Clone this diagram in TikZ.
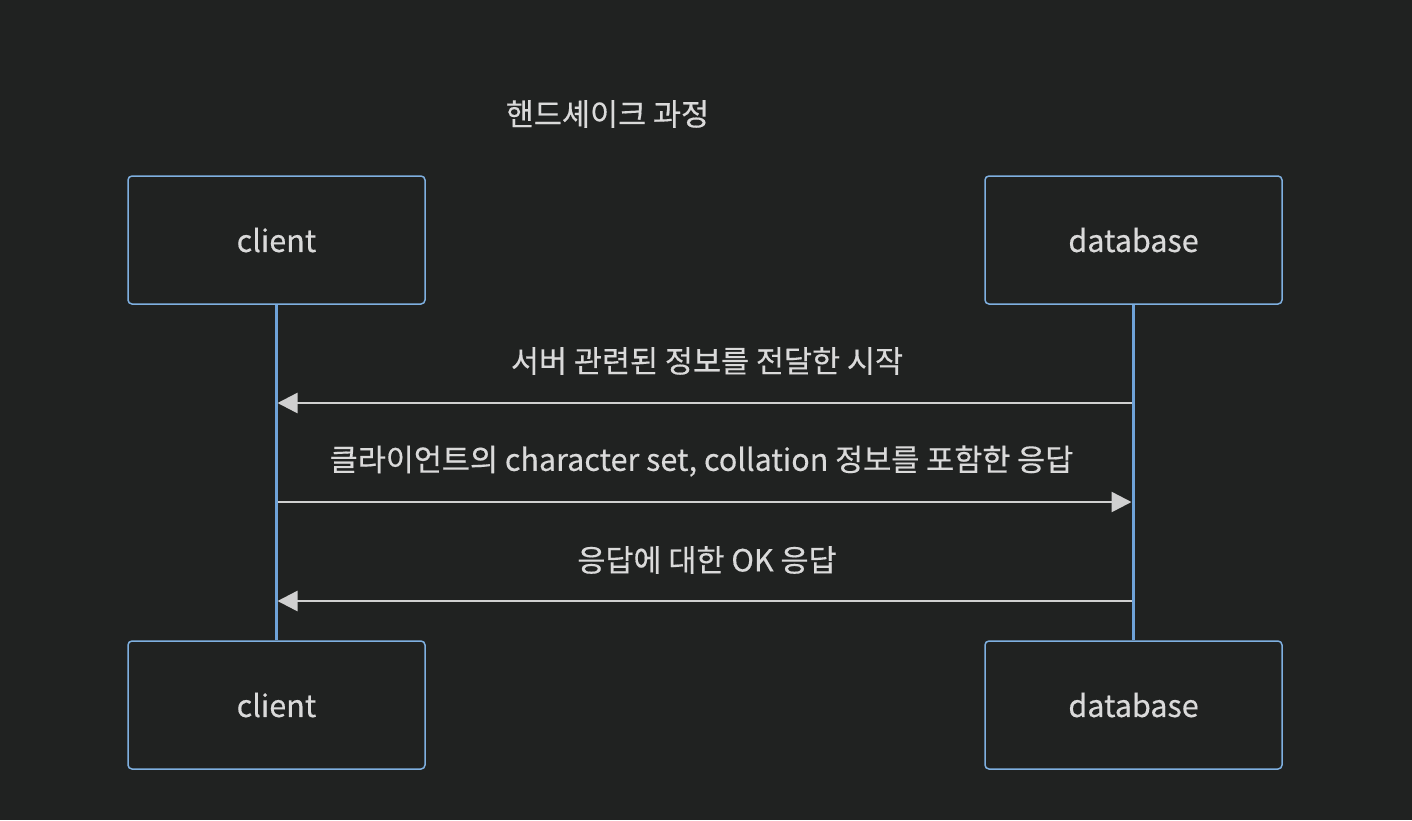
\documentclass[tikz,border=0pt]{standalone}
\usepackage{fontspec}
\setmainfont{Noto Sans CJK KR}[FakeBold=0.4]
\usetikzlibrary{arrows.meta}
\definecolor{bg}{HTML}{202221}
\definecolor{boxline}{HTML}{7FB0E0}
\definecolor{life}{HTML}{6FA3D8}
\definecolor{txt}{HTML}{DADADA}
\definecolor{msg}{HTML}{D0D0D0}
\begin{document}
\begin{tikzpicture}[x=1pt,y=-1pt,
  actor/.style={draw=boxline,line width=1.5pt,rounded corners=4pt,fill=bg,minimum width=297pt,minimum height=128pt,text=txt,font=\fontsize{30.5}{34}\selectfont,inner sep=0pt},
  lifeline/.style={draw=life,line width=3.5pt},
  message/.style={draw=msg,line width=2.5pt,-{Triangle[length=20pt,width=20pt]}},
  lbl/.style={text=txt,font=\fontsize{30.5}{34}\selectfont,inner sep=0pt}]
\fill[bg] (0,0) rectangle (1412,820);
\useasboundingbox (0,0) rectangle (1412,820);
\node[lbl] (title) at (607.5,114) {핸드셰이크 과정};
\node[actor] (c1) at (276.5,240) {client};
\node[actor] (d1) at (1133.5,240) {database};
\node[actor] (c2) at (276.5,705) {client};
\node[actor] (d2) at (1133.5,705) {database};
\draw[lifeline] (c1.south) -- (c2.north);
\draw[lifeline] (d1.south) -- (d2.north);
\coordinate (cA) at (277.5,403);
\coordinate (dA) at (1131.5,403);
\coordinate (cB) at (277.5,502);
\coordinate (dB) at (1131.5,502);
\coordinate (cC) at (277.5,601);
\coordinate (dC) at (1131.5,601);
\draw[message] (dA) -- (cA);
\draw[message] (cB) -- (dB);
\draw[message] (dC) -- (cC);
\node[lbl] (m1) at (707,361) {서버 관련된 정보를 전달한 시작};
\node[lbl] (m2) at (701.5,461) {클라이언트의 character set, collation 정보를 포함한 응답};
\node[lbl] (m3) at (707,560) {응답에 대한 OK 응답};
\end{tikzpicture}
\end{document}
